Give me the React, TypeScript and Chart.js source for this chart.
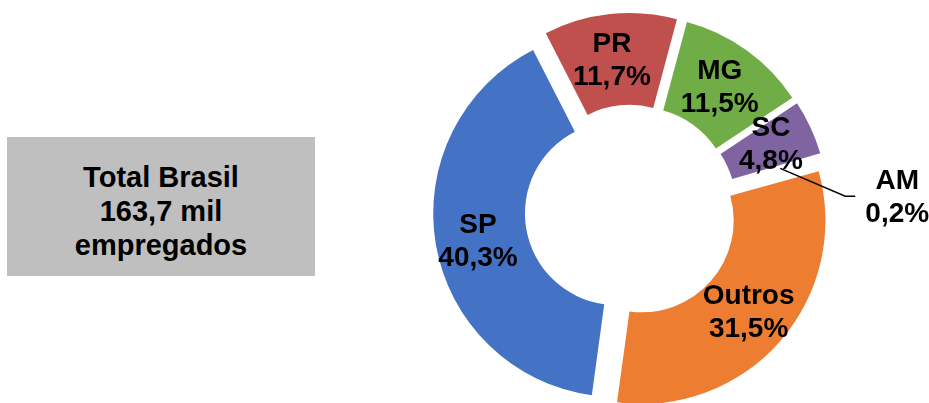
import React, { useEffect, useRef } from 'react';
import { Chart, registerables } from 'chart.js';

Chart.register(...registerables);

// ---- data ----
const categories = ['SP', 'PR', 'MG', 'SC', 'AM', 'Outros'];
const shares = [40.3, 11.7, 11.5, 4.8, 0.2, 31.5];
const totalLines = ['Total Brasil', '163,7 mil', 'empregados'];

// ---- styles ----
const colors = ['#4472C4', '#C0504D', '#70AD47', '#8064A2', '#FFFFFF', '#ED7D31'];
const explode = [14.5, 14.5, 14.5, 14.5, 14.5, 14.5];
const labelNudge: [number, number][] = [[-3, 5], [-3, 1], [0, 0], [2, -2], [120, 29], [3, 2]];
const FONT = '"Liberation Sans", Arial, Helvetica, sans-serif';

const fmt = (v: number) => v.toFixed(1).replace('.', ',') + '%';

const explodePlugin = {
  id: 'explodeArcs',
  beforeDatasetDraw(chart: any, args: any) {
    const ctx = chart.ctx;
    args.meta.data.forEach((arc: any, i: number) => {
      const mid = (arc.startAngle + arc.endAngle) / 2;
      const d = explode[i] || 0;
      ctx.save();
      ctx.translate(Math.cos(mid) * d, Math.sin(mid) * d);
      arc.draw(ctx);
      ctx.restore();
    });
    return false;
  },
};

const labelPlugin = {
  id: 'sliceLabels',
  afterDatasetsDraw(chart: any) {
    const ctx = chart.ctx;
    const meta = chart.getDatasetMeta(0);
    ctx.save();
    ctx.font = `bold 28px ${FONT}`;
    ctx.fillStyle = '#000';
    ctx.textAlign = 'center';
    ctx.textBaseline = 'middle';
    meta.data.forEach((arc: any, i: number) => {
      const mid = (arc.startAngle + arc.endAngle) / 2;
      const r = (arc.innerRadius + arc.outerRadius) / 2 + (explode[i] || 0);
      const gx = arc.x + Math.cos(mid) * r;
      const gy = arc.y + Math.sin(mid) * r;
      const lx = gx + labelNudge[i][0];
      const ly = gy + labelNudge[i][1];
      if (labelNudge[i][0] > 60) {
        // leader line for the small slice
        const rs = r + 3;
        const sx = arc.x + Math.cos(mid) * rs;
        const sy = arc.y + Math.sin(mid) * rs;
        ctx.beginPath();
        ctx.strokeStyle = '#000';
        ctx.lineWidth = 1.5;
        ctx.moveTo(sx, sy);
        ctx.lineTo(lx - 52, ly - 2);
        ctx.lineTo(lx - 42, ly - 2);
        ctx.stroke();
      }
      ctx.fillText(categories[i], lx, ly - 16.5);
      ctx.fillText(fmt(shares[i]), lx, ly + 16.5);
    });
    ctx.restore();
  },
};

export default function App() {
  const ref = useRef<HTMLCanvasElement>(null);
  useEffect(() => {
    if (!ref.current) return;
    const chart = new Chart(ref.current, {
      type: 'doughnut',
      data: {
        labels: categories,
        datasets: [
          {
            data: shares,
            backgroundColor: colors,
            borderWidth: 0,
          },
        ],
      },
      options: {
        responsive: false,
        animation: false,
        devicePixelRatio: 1,
        rotation: 187.8,
        cutout: '50%',
        radius: 183.5,
        layout: { padding: { left: 333, right: 0, top: 19, bottom: 0 } },
        plugins: {
          legend: { display: false },
          tooltip: { enabled: false },
          title: { display: false },
        },
      } as any,
      plugins: [explodePlugin, labelPlugin],
    });
    return () => chart.destroy();
  }, []);

  return (
    <div style={{ position: 'fixed', left: 0, top: 0, width: 929, height: 403, background: '#fff' }}>
      <canvas ref={ref} width={929} height={403} style={{ position: 'absolute', left: 0, top: 0 }} />
      <div
        style={{
          position: 'absolute',
          left: 7,
          top: 137,
          width: 308,
          height: 139,
          background: '#BFBFBF',
          display: 'flex',
          flexDirection: 'column',
          alignItems: 'center',
          justifyContent: 'center',
          paddingTop: 8,
          boxSizing: 'border-box',
          fontFamily: FONT,
          fontWeight: 'bold',
          fontSize: 29,
          lineHeight: '34px',
          color: '#000',
        }}
      >
        {totalLines.map((t) => (
          <div key={t}>{t}</div>
        ))}
      </div>
    </div>
  );
}
